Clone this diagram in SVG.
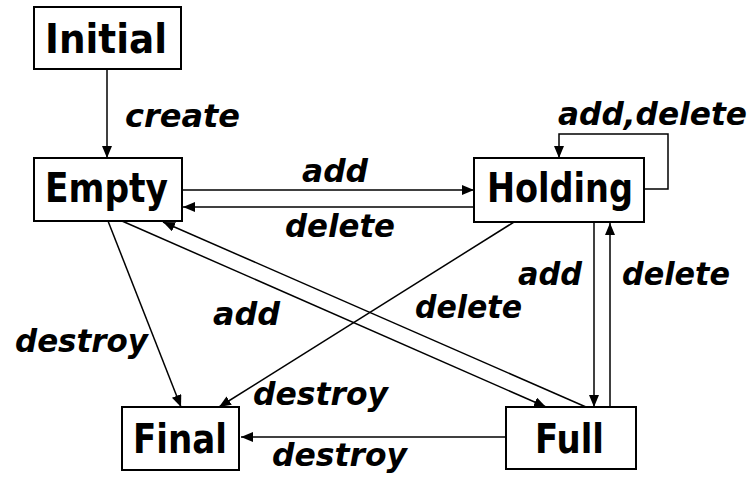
<svg xmlns="http://www.w3.org/2000/svg" width="753" height="478" viewBox="0 0 753 478">
  <defs>
    <marker id="arrow" markerUnits="userSpaceOnUse" markerWidth="14" markerHeight="12" refX="12" refY="5" orient="auto">
      <path d="M0,0 L12,5 L0,10 z" fill="#000"/>
    </marker>
    <style>
      .box { fill: #fff; stroke: #000; stroke-width: 2; }
      .node-label { font-family: "Comic Sans MS", "DejaVu Sans", sans-serif; font-weight: bold; font-size: 40px; fill: #000; }
      .edge { fill: none; stroke: #000; stroke-width: 1.5; marker-end: url(#arrow); }
      .edge-label { font-family: "Comic Sans MS", "DejaVu Sans", sans-serif; font-weight: bold; font-style: italic; font-size: 32px; fill: #000; }
    </style>
  </defs>
  <rect width="753" height="478" fill="#fff"/>

  <!-- transitions -->
  <g id="connectors">
    <path class="edge" d="M107,69 L107,158"/>
    <path class="edge" d="M182,190 L474,190"/>
    <path class="edge" d="M474,207 L183,207"/>
    <path class="edge" d="M644,189 L668,189 L668,134 L559,134 L559,158"/>
    <path class="edge" d="M594,222 L594,407"/>
    <path class="edge" d="M610,407 L610,223"/>
    <path class="edge" d="M506,437 L241,437"/>
    <path class="edge" d="M108,221 L181,407"/>
    <path class="edge" d="M514,222 L219,407"/>
    <path class="edge" d="M122,221 L546,407"/>
    <path class="edge" d="M586,407 L163,222"/>

    <text class="edge-label" x="125" y="127" textLength="115" lengthAdjust="spacingAndGlyphs">create</text>
    <text class="edge-label" x="302" y="182" textLength="66" lengthAdjust="spacingAndGlyphs">add</text>
    <text class="edge-label" x="285" y="237" textLength="110" lengthAdjust="spacingAndGlyphs">delete</text>
    <text class="edge-label" x="558" y="125" textLength="189" lengthAdjust="spacingAndGlyphs">add,delete</text>
    <text class="edge-label" x="518" y="285" textLength="64" lengthAdjust="spacingAndGlyphs">add</text>
    <text class="edge-label" x="622" y="285" textLength="108" lengthAdjust="spacingAndGlyphs">delete</text>
    <text class="edge-label" x="213" y="325" textLength="67" lengthAdjust="spacingAndGlyphs">add</text>
    <text class="edge-label" x="415" y="318" textLength="107" lengthAdjust="spacingAndGlyphs">delete</text>
    <text class="edge-label" x="15" y="352" textLength="133" lengthAdjust="spacingAndGlyphs">destroy</text>
    <text class="edge-label" x="253" y="405" textLength="135" lengthAdjust="spacingAndGlyphs">destroy</text>
    <text class="edge-label" x="272" y="466" textLength="135" lengthAdjust="spacingAndGlyphs">destroy</text>
  </g>

  <!-- states -->
  <g id="initial">
    <rect class="box" x="34" y="7" width="147" height="62"/>
    <text class="node-label" x="45" y="53" textLength="122" lengthAdjust="spacingAndGlyphs">Initial</text>
  </g>
  <g id="empty">
    <rect class="box" x="34" y="158" width="148" height="63"/>
    <text class="node-label" x="45" y="202" textLength="123" lengthAdjust="spacingAndGlyphs">Empty</text>
  </g>
  <g id="holding">
    <rect class="box" x="474" y="158" width="170" height="64"/>
    <text class="node-label" x="487" y="202" textLength="146" lengthAdjust="spacingAndGlyphs">Holding</text>
  </g>
  <g id="final">
    <rect class="box" x="122" y="407" width="117" height="63"/>
    <text class="node-label" x="133" y="453" textLength="94" lengthAdjust="spacingAndGlyphs">Final</text>
  </g>
  <g id="full">
    <rect class="box" x="506" y="407" width="130" height="62"/>
    <text class="node-label" x="535" y="453" textLength="69" lengthAdjust="spacingAndGlyphs">Full</text>
  </g>
</svg>
